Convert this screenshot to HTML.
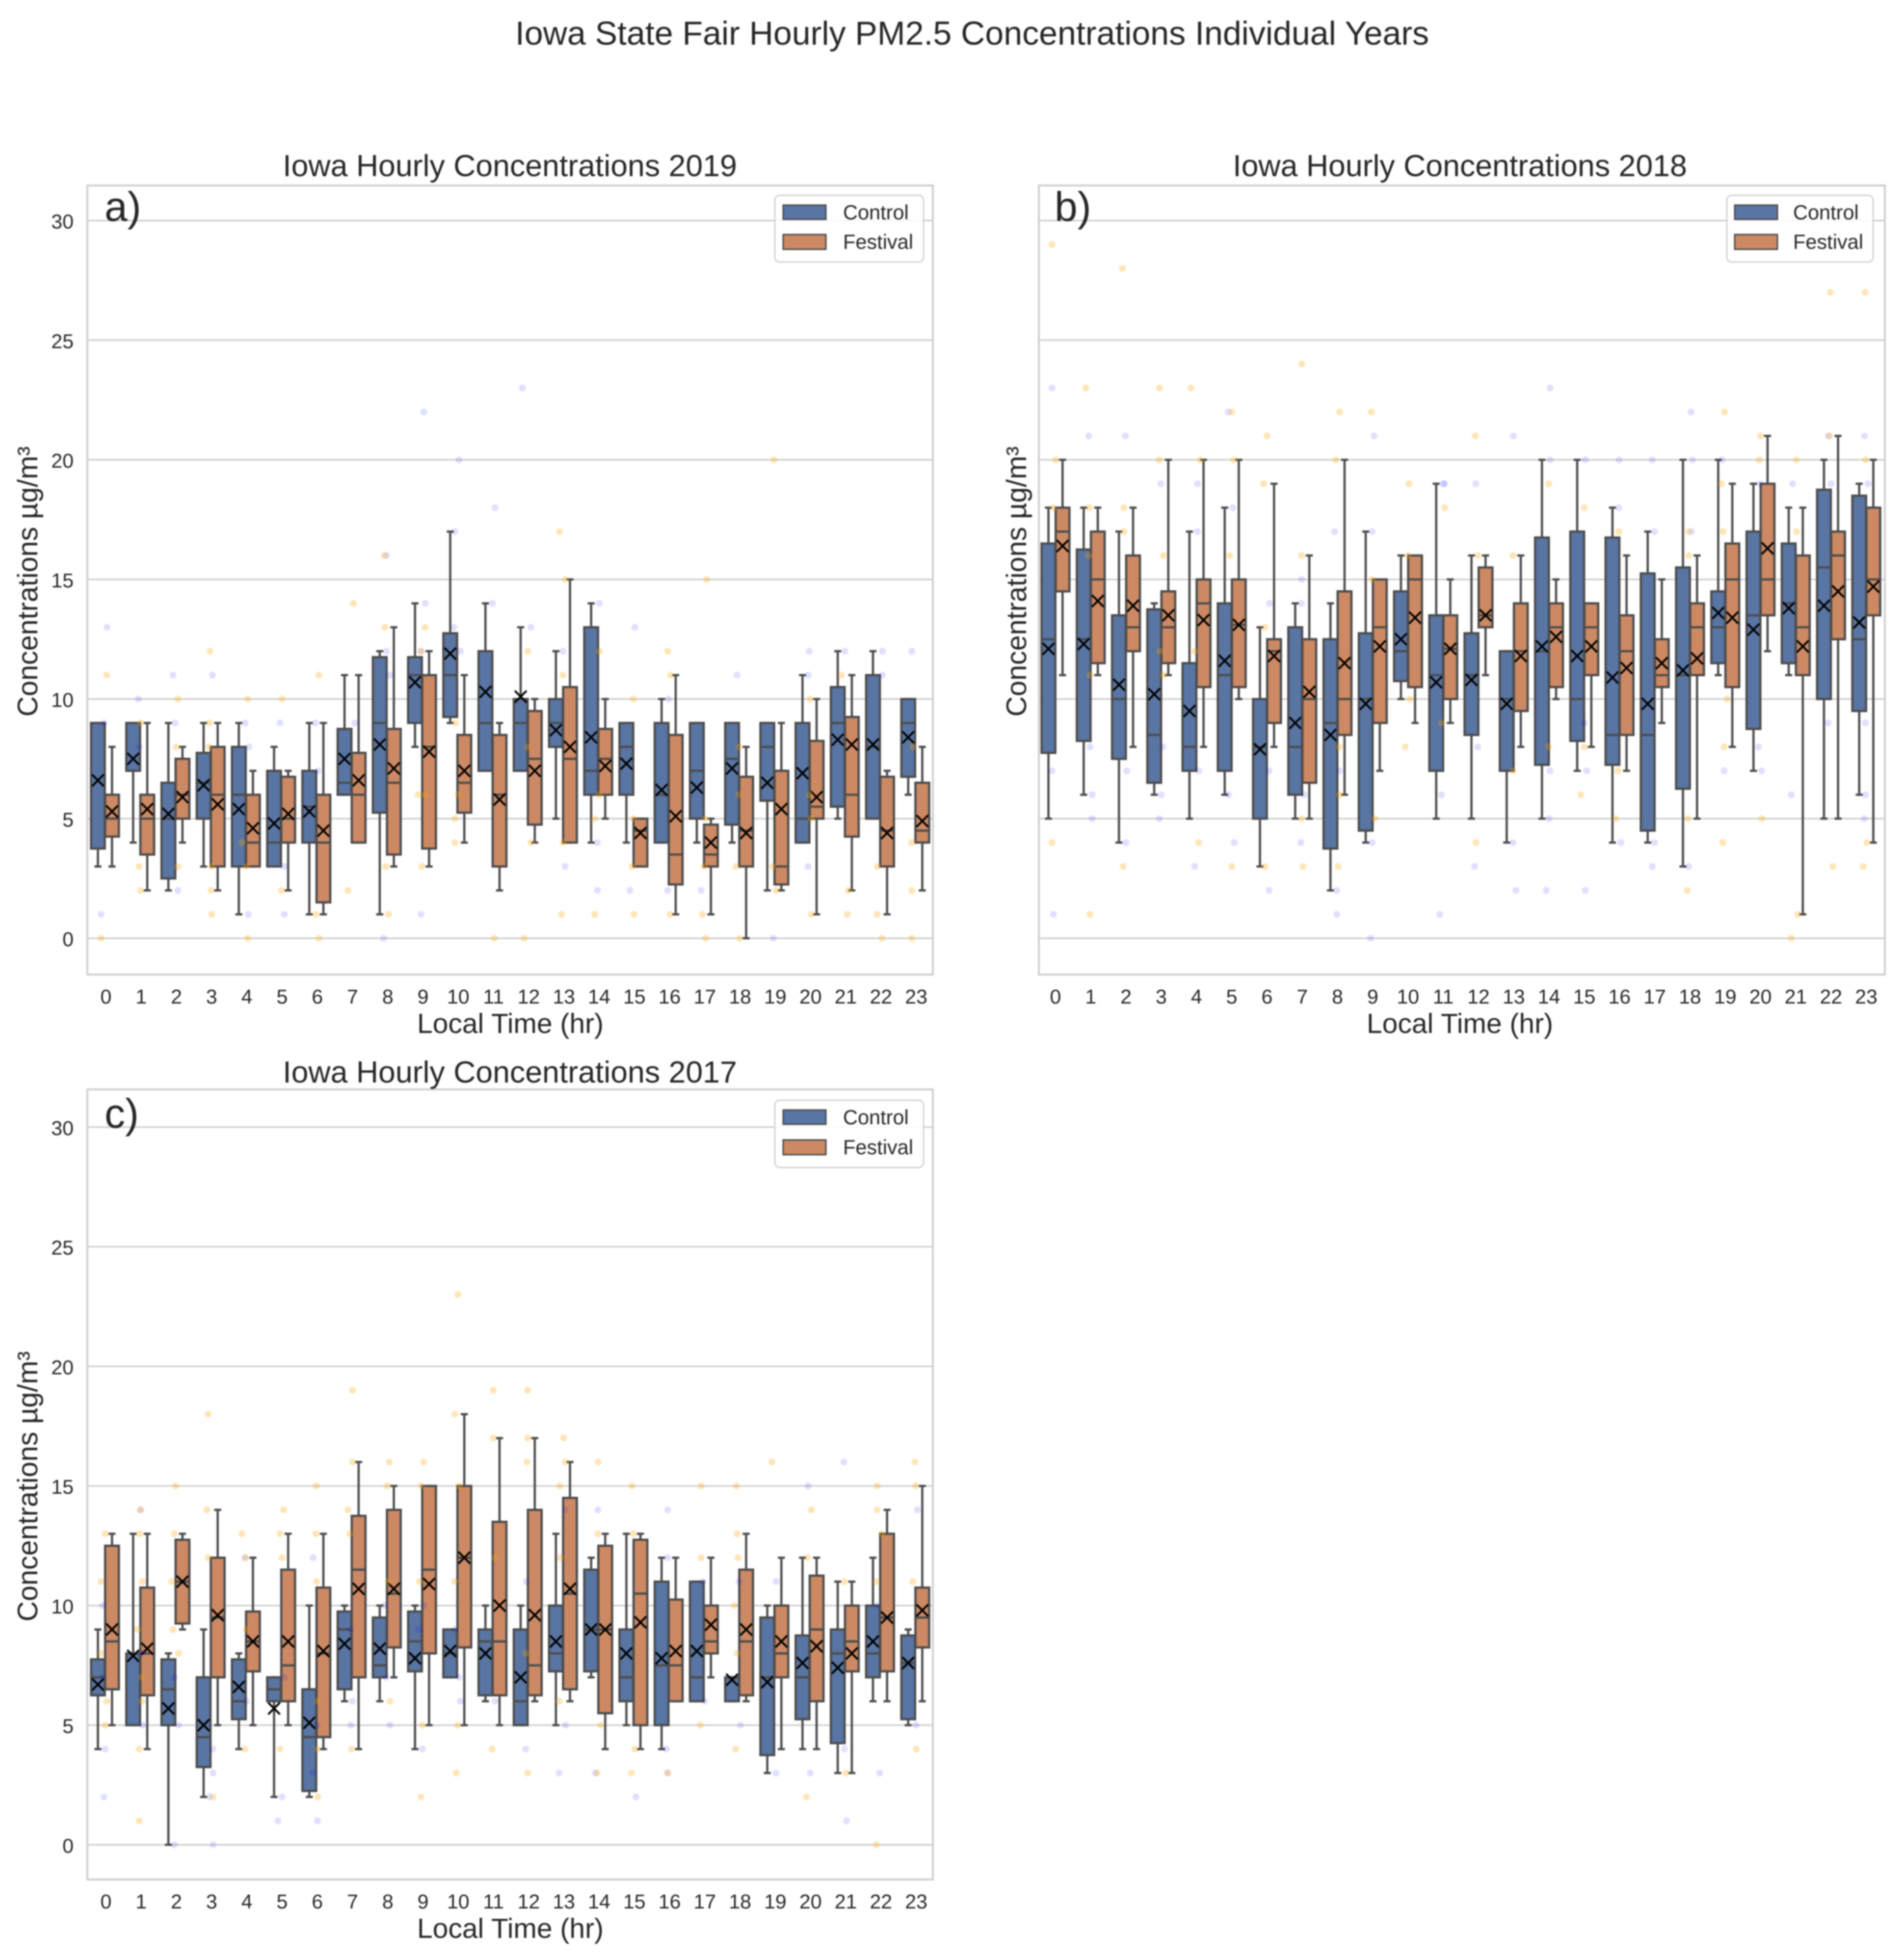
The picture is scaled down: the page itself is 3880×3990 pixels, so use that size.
<!DOCTYPE html>
<html lang="en">
<head>
<meta charset="utf-8">
<title>Iowa State Fair Hourly PM2.5 Concentrations Individual Years</title>
<style>
html,body{margin:0;padding:0;background:#fff;}
svg{display:block;filter:blur(1.3px);}
text{font-family:"Liberation Sans",Arial,sans-serif;fill:#262626;}
</style>
</head>
<body>
<svg id="chart" xmlns="http://www.w3.org/2000/svg" width="3880" height="3990" viewBox="0 0 3880 3990">
<rect x="0" y="0" width="3880" height="3990" fill="#fff"/>
<text x="1981" y="91" font-size="68.1" text-anchor="middle">Iowa State Fair Hourly PM2.5 Concentrations Individual Years</text>

<g>
  <g id="grid-a"></g>
  <g id="marks-a"></g>
  <rect x="178" y="378" width="1723" height="1608" fill="none" stroke="#cfcfcf" stroke-width="4"/>
  <text x="213" y="450" font-size="84">a)</text>
  <text x="1039" y="359" font-size="62.6" text-anchor="middle">Iowa Hourly Concentrations 2019</text>
  <text x="1040" y="2105" font-size="57" text-anchor="middle">Local Time (hr)</text>
  <text transform="translate(76 1185) rotate(-90)" font-size="57.5" text-anchor="middle">Concentrations µg/m³</text>
  <g>
    <rect x="1579" y="398" width="303" height="136" rx="10" fill="#fff" fill-opacity=".85" stroke="#d4d4d4" stroke-width="3"/>
    <rect x="1596" y="418" width="87" height="29" fill="#5875a4" stroke="#4c4c4c" stroke-width="3"/>
    <text x="1718" y="447" font-size="41.5">Control</text>
    <rect x="1596" y="478" width="87" height="30" fill="#cc8963" stroke="#4c4c4c" stroke-width="3"/>
    <text x="1718" y="507" font-size="41.5">Festival</text>
  </g>
</g>

<g>
  <g id="grid-b"></g>
  <g id="marks-b"></g>
  <rect x="2117" y="378" width="1724" height="1608" fill="none" stroke="#cfcfcf" stroke-width="4"/>
  <text x="2149" y="450" font-size="84">b)</text>
  <text x="2975" y="359" font-size="62.6" text-anchor="middle">Iowa Hourly Concentrations 2018</text>
  <text x="2975" y="2105" font-size="57" text-anchor="middle">Local Time (hr)</text>
  <text transform="translate(2091 1185) rotate(-90)" font-size="57.5" text-anchor="middle">Concentrations µg/m³</text>
  <g>
    <rect x="3519" y="398" width="298" height="136" rx="10" fill="#fff" fill-opacity=".85" stroke="#d4d4d4" stroke-width="3"/>
    <rect x="3535" y="418" width="87" height="29" fill="#5875a4" stroke="#4c4c4c" stroke-width="3"/>
    <text x="3654" y="447" font-size="41.5">Control</text>
    <rect x="3535" y="478" width="87" height="30" fill="#cc8963" stroke="#4c4c4c" stroke-width="3"/>
    <text x="3654" y="507" font-size="41.5">Festival</text>
  </g>
</g>

<g>
  <g id="grid-c"></g>
  <g id="marks-c"></g>
  <rect x="178" y="2220" width="1723" height="1610" fill="none" stroke="#cfcfcf" stroke-width="4"/>
  <text x="213" y="2298" font-size="84">c)</text>
  <text x="1039" y="2206" font-size="62.6" text-anchor="middle">Iowa Hourly Concentrations 2017</text>
  <text x="1040" y="3949" font-size="57" text-anchor="middle">Local Time (hr)</text>
  <text transform="translate(76 3029) rotate(-90)" font-size="57.5" text-anchor="middle">Concentrations µg/m³</text>
  <g>
    <rect x="1579" y="2242" width="303" height="137" rx="10" fill="#fff" fill-opacity=".85" stroke="#d4d4d4" stroke-width="3"/>
    <rect x="1596" y="2262" width="87" height="29" fill="#5875a4" stroke="#4c4c4c" stroke-width="3"/>
    <text x="1718" y="2291" font-size="41.5">Control</text>
    <rect x="1596" y="2323" width="87" height="30" fill="#cc8963" stroke="#4c4c4c" stroke-width="3"/>
    <text x="1718" y="2352" font-size="41.5">Festival</text>
  </g>
</g>
</svg>

<script>
const hours = [0,1,2,3,4,5,6,7,8,9,10,11,12,13,14,15,16,17,18,19,20,21,22,23];
const yTicks = [0,5,10,15,20,25,30];

/* 2019 control */
const c19Low  = [3,4,2,3,1,3,1,6,1,8,9,7,7,5,4,4,4,4,4,2,4,5,5,6];
const c19Q1   = [3.75,7,2.5,5,3,3,4,6,5.25,9,9.25,7,7,8,6,6,4,5,4.75,5.75,4,5.5,5,6.75];
const c19Med  = [9,9,5,6.5,6,4,5.5,6.5,9,11,11,9,9,9,7,8,6,7,7.5,8,5,9,8,9];
const c19Q3   = [9,9,6.5,7.75,8,7,7,8.75,11.75,11.75,12.75,12,10,10,13,9,9,9,9,9,9,10.5,11,10];
const c19High = [9,9,9,9,9,8,9,11,12,14,17,14,13,12,14,9,10,9,9,9,11,12,12,10];
const c19Mean = [6.6,7.5,5.2,6.4,5.4,4.8,5.3,7.5,8.1,10.7,11.9,10.3,10.1,8.7,8.4,7.3,6.2,6.3,7.1,6.5,6.9,8.3,8.1,8.4];
/* 2019 festival */
const f19Low  = [3,2,4,2,3,2,1,4,3,3,4,2,4,4,5,3,1,1,0,2,1,2,1,2];
const f19Q1   = [4.25,3.5,5,3,3,4,1.5,4,3.5,3.75,5.25,3,4.75,4,6,3,2.25,3,3,2.25,5,4.25,3,4];
const f19Med  = [5,5,6,6,4,5,4,6,6.5,8,6.5,6,7.5,7.5,7.5,4.5,3.5,3.5,4.5,3,5.5,6,4.5,4.5];
const f19Q3   = [6,6,7.5,8,6,6.75,6,7.75,8.75,11,8.5,8.5,9.5,10.5,8.75,5,8.5,4.75,6.75,7,8.25,9.25,6.75,6.5];
const f19High = [8,9,8,9,7,7,9,11,13,12,11,9,10,15,10,5,11,5,8,9,10,11,7,8];
const f19Mean = [5.3,5.4,5.9,5.6,4.6,5.2,4.5,6.6,7.1,7.8,7,5.8,7,8,7.2,4.4,5.1,4,4.4,5.4,5.9,8.1,4.4,4.9];
/* 2018 control */
const c18Low  = [5,6,4,6,5,6,3,5,2,4,10,5,5,4,5,7,4,4,3,11,7,11,5,6];
const c18Q1   = [7.75,8.25,7.5,6.5,7,7,5,6,3.75,4.5,10.75,7,8.5,7,7.25,8.25,7.25,4.5,6.25,11.5,8.75,11.5,10,9.5];
const c18Med  = [12.5,12.5,10,8.5,8,11,8,8,9,10,12,11,11,10,12,10,8.5,8.5,11,13,13.5,14,15.5,12.5];
const c18Q3   = [16.5,16.25,13.5,13.75,11.5,14,10,13,12.5,12.75,14.5,13.5,12.75,12,16.75,17,16.75,15.25,15.5,14.5,17,16.5,18.75,18.5];
const c18High = [18,18,17,14,17,18,13,14,14,17,16,19,16,12,20,20,18,17,20,20,19,18,20,19];
const c18Mean = [12.1,12.3,10.6,10.2,9.5,11.6,7.9,9,8.5,9.8,12.5,10.7,10.8,9.8,12.2,11.8,10.9,9.8,11.2,13.6,12.9,13.8,13.9,13.2];
/* 2018 festival */
const f18Low  = [11,11,8,11,8,10,8,5,6,7,9,9,11,8,10,8,7,9,5,8,12,1,5,4];
const f18Q1   = [14.5,11.5,12,11.5,10.5,10.5,9,6.5,8.5,9,10.5,10,13,9.5,10.5,11,8.5,10.5,11,10.5,13.5,11,12.5,13.5];
const f18Med  = [17,15,13,13,14,13.1,12,10,10,13,15,12.1,13.5,12,13,13,12,11,13,15,15,13,16,15];
const f18Q3   = [18,17,16,14.5,15,15,12.5,12.5,14.5,15,16,13.5,15.5,14,14,14,13.5,12.5,14,16.5,19,16,17,18];
const f18High = [20,18,18,20,20,20,19,16,20,15,16,15,16,16,15,14,16,15,16,19,21,18,21,20];
const f18Mean = [16.4,14.1,13.9,13.5,13.3,13.1,11.8,10.3,11.5,12.2,13.4,12.1,13.5,11.8,12.6,12.2,11.3,11.5,11.7,13.4,16.3,12.2,14.5,14.7];
/* 2017 control */
const c17Low  = [4,5,0,2,4,2,2,6,6,4,7,6,5,5,7,5,4,6,6,3,4,3,6,5];
const c17Q1   = [6.25,5,5,3.25,5.25,6,2.25,6.5,7,7.25,7,6.25,5,7.25,7.25,6,5,6,6,3.75,5.25,4.25,7,5.25];
const c17Med  = [7,8,6.5,4.5,6,6.5,4.5,9,7.5,8.5,8,8.5,6,8,9,7,7.5,7,7,7,7,8,8,7.6];
const c17Q3   = [7.75,8,7.75,7,7.75,7,6.5,9.75,9.5,9.75,9,9,9,10,11.5,9,11,11,7,9.5,8.75,9,10,8.75];
const c17High = [9,13,8,9,8,7,10,10,10,10,9,10,10,13,12,13,12,11,7,10,12,11,12,9];
const c17Mean = [6.7,7.9,5.7,5,6.6,5.7,5.1,8.4,8.2,7.8,8.1,8,7,8.5,9,8,7.8,8.1,6.9,6.8,7.6,7.4,8.5,7.6];
/* 2017 festival */
const f17Low  = [5,4,9,5,5,5,4,4,7,5,5,5,6,6,4,4,6,7,6,4,4,3,6,6];
const f17Q1   = [6.5,6.25,9.25,7,7.25,6,4.5,7,8.25,8,8.25,6.25,6.25,6.5,5.5,5,6,8,6.25,7,6,7.25,7.25,8.25];
const f17Med  = [8.5,8,11,9.5,8.5,7.5,8,11.5,10.5,11.5,12,8.5,7.5,10.5,9,10.5,7.5,8.5,8.5,8,9,8.5,9.5,9.5];
const f17Q3   = [12.5,10.75,12.75,12,9.75,11.5,10.75,13.75,14,15,15,13.5,14,14.5,12.5,12.75,10.25,10,11.5,10,11.25,10,13,10.75];
const f17High = [13,13,13,14,12,13,13,16,15,15,18,17,17,16,13,13,12,12,13,12,12,11,14,15];
const f17Mean = [9,8.2,11,9.6,8.5,8.5,8.1,10.7,10.7,10.9,12,10,9.6,10.7,9,9.3,8.1,9.2,9,8.5,8.3,8,9.5,9.8];

/* individual observations: [jittered hour, concentration] */
const c19Obs = [[.06,13],[-.11,1],[-.03,9],[.95,10],[.97,8],[1.93,11],[2.07,2],[1.99,9],[3.05,11],[3.98,9],[4.07,1],[4.09,8],[4.97,9],[5.09,1],[5.09,3],[6.05,7],[5.97,9],[7.09,9],[8.97,1],[7.91,0],[7.99,16],[7.99,12],[9.09,14],[8.97,12],[9.9,13],[9.93,17],[8.09,11],[10.09,12],[9.05,22],[10.05,20],[11.07,18],[11,14],[12.09,13],[13,12],[14.03,14],[15.04,13],[13.98,4],[13.06,3],[13.98,2],[14.9,2],[15.97,2],[16.92,2],[17.94,11],[19.99,12],[19.96,3],[19.96,11],[21,12],[22.07,12],[22.07,11],[22.9,12],[16,10],[18.97,0],[11.85,23]];
const f19Obs = [[.05,11],[-.11,0],[1.01,9],[1.01,2],[.97,3],[2.07,10],[2.07,3],[2.02,8],[2.98,12],[3.03,1],[3.01,2],[3.03,3],[2.97,9],[2.95,8],[4.05,10],[4.05,0],[4.01,3],[3.89,4],[5.03,10],[5.01,2],[6.07,11],[6.07,0],[5.99,1],[7.05,14],[6.9,2],[7.93,16],[7.95,13],[8.05,1],[7.97,3],[9.09,13],[8.97,12],[8.89,6],[9.09,6],[8.99,3],[9.93,4],[9.93,5],[10.03,6],[9.95,9],[12.9,17],[17.08,15],[13.06,15],[12,12],[14.03,12],[15.97,12],[16.05,11],[13,11],[20.9,11],[15,10],[20.02,10],[12.09,4],[13,4],[12.96,1],[13.9,1],[15.02,1],[16.04,1],[16.96,1],[20.05,1],[21.07,1],[21.92,1],[21.1,2],[22.9,2],[19.05,2],[11.9,0],[11.05,0],[17.05,0],[18.02,0],[22.06,0],[22.9,0],[22.9,4],[21.92,3],[17.91,3],[17,3],[14.96,3],[18.95,3],[15,5],[13.9,5],[17.04,5],[20.05,5],[18,6],[20,6],[14.03,6],[12,8],[18,8],[22.93,8],[18.99,20]];
const c18Obs = [[-.1,23],[.94,21],[1.98,21],[4.9,22],[9.04,21],[2.99,19],[4.03,19],[5.03,18],[4.02,17],[7.92,17],[8.98,17],[.98,8],[1.04,6],[-.1,7],[-.06,1],[1.04,5],[2.02,7],[2,4],[3.04,8],[3,6],[2.94,5],[4.06,7],[3.95,3],[4.91,6],[5.07,4],[6.07,14],[6.06,7],[6.06,2],[6.98,15],[6.98,14],[6.96,4],[7.06,6],[7.98,2],[7.98,1],[8.94,0],[8.98,4],[8.06,7],[10.9,1],[11,19],[12.99,21],[18.03,22],[11.04,19],[11.92,19],[14.03,20],[15.03,20],[15.99,20],[16.93,20],[18.07,20],[18.91,20],[20.91,19],[19.98,19],[21.92,21],[22,19],[22.95,21],[23.05,19],[15.98,18],[16.99,17],[18.04,17],[11.89,3],[13.06,2],[13.92,2],[15.03,2],[16.93,3],[17.96,3],[16.04,4],[16.99,4],[12.98,4],[14.03,7],[15.07,7],[18.97,7],[20.03,7],[19.94,8],[20.87,6],[22.98,6],[10.95,6],[14,5],[22.94,5],[11.98,8],[21.92,9],[22.98,9],[15,9],[14.03,23]];
const f18Obs = [[-.1,29],[0,20],[-.06,18],[-.1,4],[.98,1],[.96,18],[.94,16],[.98,11],[1.94,18],[1.94,17],[1.92,3],[2.94,20],[3.06,16],[3.06,11],[2.96,12],[4.1,20],[3.95,12],[4.06,4],[5,22],[5.06,20],[4.94,16],[5,3],[6,21],[5.9,19],[5.94,3],[5.94,13],[6.98,16],[6.98,5],[7.02,3],[8.06,22],[7.95,20],[8.02,3],[8.06,6],[8.06,8],[8.96,22],[9.06,5],[8.98,15],[10.03,19],[9.92,8],[10,16],[10.06,10],[.86,23],[1.9,28],[2.95,23],[3.84,23],[6.99,24],[11.91,21],[18.98,22],[20,21],[21.96,21],[21.02,20],[19.96,20],[22.98,20],[18.89,19],[13.99,19],[11.04,18],[15,18],[15.98,17],[17.96,17],[18.94,17],[11.99,16],[12.98,16],[17.96,16],[21.02,17],[18.93,4],[23.02,4],[11.93,4],[22.05,3],[22.91,3],[17.92,2],[21.06,1],[20.87,0],[14.9,6],[15.89,5],[20.04,5],[17.94,5],[18.97,8],[15,8],[13.99,8],[12.98,7],[15.96,7],[10.95,9],[19.05,10],[21.98,27],[22.97,27]];
const c17Obs = [[-.03,2],[0,4],[-.07,10],[-.07,7],[1.05,8],[1.07,5],[1.01,14],[1.97,0],[1.97,7],[2.09,5],[3.07,0],[3.07,3],[2.97,2],[3.06,4],[4.01,6],[3.97,12],[4.91,1],[5.03,2],[5.09,7],[5.91,12],[6.03,1],[5.91,3],[6.03,5],[7.02,6],[6.98,5],[6.97,9],[8.09,5],[7.93,10],[7.97,7],[8.9,9],[9.01,4],[9.05,10],[10.09,6],[10.05,7],[9.93,9],[20.97,16],[19.96,15],[13.99,14],[15.97,14],[13.06,14],[23.06,14],[21.05,1],[15.07,2],[12.89,3],[13.92,3],[15.97,3],[19.05,3],[20.02,3],[21.99,3],[11.94,4],[15.93,4],[20.99,4],[19.05,11],[16.98,11],[18,11],[21.92,10],[15.97,12],[17.02,6],[13.07,5],[18.04,5],[23.02,5],[11.07,6],[11.96,11]];
const f17Obs = [[2.93,18],[7.03,19],[7.03,16],[8.07,16],[9.05,16],[9.93,18],[6,15],[2.01,15],[6.9,14],[5.07,14],[2.89,14],[1.01,14],[.01,13],[.98,13],[1.97,13],[3.89,13],[4.97,13],[5.99,13],[6.95,13],[8.01,15],[8.97,15],[10.05,15],[2.93,12],[3.99,12],[5.03,12],[-.11,11],[1.06,11],[1.89,11],[6.01,11],[8.05,11],[8.93,11],[9.93,11],[1.93,9],[.93,9],[4.01,9],[-.11,8],[1.05,7],[.05,6],[1.05,6],[6.04,6],[8.09,6],[.01,5],[9.01,5],[10.01,5],[.97,4],[3.97,4],[4.97,4],[6.04,4],[7,4],[9.97,3],[.97,1],[3.07,2],[6.04,2],[8.97,2],[2.09,8],[10.02,23],[12,19],[11.02,19],[12,17],[11.02,17],[13.02,17],[11.98,16],[13.06,16],[14,16],[18.93,16],[22.99,16],[12.91,15],[14.96,15],[16.92,15],[17.92,15],[21.92,15],[23.02,15],[20.05,14],[21.92,14],[13.99,13],[15,13],[17.95,13],[22.05,13],[12.93,12],[16.92,12],[17.97,12],[19.94,12],[11.07,12],[22.93,11],[20.99,11],[21.9,11],[17.87,10],[12.89,6],[12,3],[14.94,3],[21.03,3],[13.97,3],[15.97,3],[19.91,2],[21.9,0],[17.9,4],[23.03,4],[15.04,4],[14.07,5],[16.9,5],[10.99,4],[11.94,8],[17.95,8]];

const SVG_NS = 'http://www.w3.org/2000/svg';
const BOX_LINE = '#4c4c4c';
const CONTROL_FILL = '#5875a4';
const FESTIVAL_FILL = '#cc8963';

function mk(parent, tag, attrs) {
  const el = document.createElementNS(SVG_NS, tag);
  for (const k in attrs) el.setAttribute(k, attrs[k]);
  parent.appendChild(el);
  return el;
}

function drawSeries(group, xCat, yVal, offset, fill, s) {
  const halfWidth = xCat.unit * 0.195;
  const capHalf = xCat.unit * 0.1;
  hours.forEach(function (h, i) {
    const cx = xCat(h + offset);
    const g = mk(group, 'g', {});
    
    
    const line = {stroke: BOX_LINE, 'stroke-width': 4.6, fill: 'none'};
    mk(g, 'line', Object.assign({x1: cx, x2: cx, y1: yVal(s.low[i]), y2: yVal(s.q1[i])}, line));
    mk(g, 'line', Object.assign({x1: cx, x2: cx, y1: yVal(s.q3[i]), y2: yVal(s.high[i])}, line));
    mk(g, 'line', Object.assign({x1: cx - capHalf, x2: cx + capHalf, y1: yVal(s.low[i]), y2: yVal(s.low[i])}, line));
    mk(g, 'line', Object.assign({x1: cx - capHalf, x2: cx + capHalf, y1: yVal(s.high[i]), y2: yVal(s.high[i])}, line));
    mk(g, 'rect', {x: cx - halfWidth, y: yVal(s.q3[i]), width: halfWidth * 2, height: Math.max(0, yVal(s.q1[i]) - yVal(s.q3[i])), fill: fill, stroke: BOX_LINE, 'stroke-width': 4.6});
    mk(g, 'line', Object.assign({x1: cx - halfWidth, x2: cx + halfWidth, y1: yVal(s.med[i]), y2: yVal(s.med[i])}, line));
    const my = yVal(s.mean[i]);
    const mean = mk(g, 'path', {d: 'M' + (cx - 12) + ' ' + (my - 12) + 'L' + (cx + 12) + ' ' + (my + 12) + 'M' + (cx - 12) + ' ' + (my + 12) + 'L' + (cx + 12) + ' ' + (my - 12), stroke: '#000', 'stroke-width': 4, fill: 'none'});
    
    
  });
}

function drawObs(group, xCat, yVal, obs, color, name) {
  obs.forEach(function (p) {
    const dot = mk(group, 'circle', {cx: xCat(p[0]), cy: yVal(p[1]), r: 7, fill: color});
    
    
  });
}

function renderPanel(cfg) {
  const left = cfg.left, right = cfg.right;
  const unit = (right - left) / hours.length;
  const xCat = function (h) { return left + cfg.xShift + unit * (h + 0.5); };
  xCat.unit = unit;
  const yVal = function (v) { return cfg.y0 - cfg.perUnit * v; };
  const grid = document.getElementById('grid-' + cfg.id);
  const marks = document.getElementById('marks-' + cfg.id);

  yTicks.forEach(function (t) {
    const ln = mk(grid, 'line', {x1: left, x2: right, y1: yVal(t), y2: yVal(t), stroke: '#cfcfcf', 'stroke-width': 3.2});
    
    
    if (cfg.showY) {
      const lb = mk(grid, 'text', {x: left - 28, y: yVal(t) + 16, 'font-size': 41, 'text-anchor': 'end'});
      lb.textContent = String(t);
      
      
    }
  });
  hours.forEach(function (h) {
    const lb = mk(grid, 'text', {x: xCat(h) + cfg.labelNudge, y: cfg.tickBase, 'font-size': 41, 'text-anchor': 'middle'});
    lb.textContent = String(h);
    
    
  });

  drawSeries(marks, xCat, yVal, -0.2, CONTROL_FILL, cfg.control);
  drawSeries(marks, xCat, yVal, 0.2, FESTIVAL_FILL, cfg.festival);
  drawObs(marks, xCat, yVal, cfg.controlObs, 'rgba(0,0,255,0.12)', 'control-observation');
  drawObs(marks, xCat, yVal, cfg.festivalObs, 'rgba(255,165,0,0.28)', 'festival-observation');
}

renderPanel({id: 'a', left: 178, right: 1901, xShift: 0, labelNudge: 2, y0: 1912, perUnit: 48.75, tickBase: 2045, showY: true,
  control: {label: 'control', low: c19Low, q1: c19Q1, med: c19Med, q3: c19Q3, high: c19High, mean: c19Mean},
  festival: {label: 'festival', low: f19Low, q1: f19Q1, med: f19Med, q3: f19Q3, high: f19High, mean: f19Mean},
  controlObs: c19Obs, festivalObs: f19Obs});
renderPanel({id: 'b', left: 2117, right: 3841, xShift: -2, labelNudge: 0, y0: 1912, perUnit: 48.75, tickBase: 2045, showY: false,
  control: {label: 'control', low: c18Low, q1: c18Q1, med: c18Med, q3: c18Q3, high: c18High, mean: c18Mean},
  festival: {label: 'festival', low: f18Low, q1: f18Q1, med: f18Med, q3: f18Q3, high: f18High, mean: f18Mean},
  controlObs: c18Obs, festivalObs: f18Obs});
renderPanel({id: 'c', left: 178, right: 1901, xShift: 0, labelNudge: 2, y0: 3759.3, perUnit: 48.75, tickBase: 3889, showY: true,
  control: {label: 'control', low: c17Low, q1: c17Q1, med: c17Med, q3: c17Q3, high: c17High, mean: c17Mean},
  festival: {label: 'festival', low: f17Low, q1: f17Q1, med: f17Med, q3: f17Q3, high: f17High, mean: f17Mean},
  controlObs: c17Obs, festivalObs: f17Obs});
</script>
</body>
</html>
